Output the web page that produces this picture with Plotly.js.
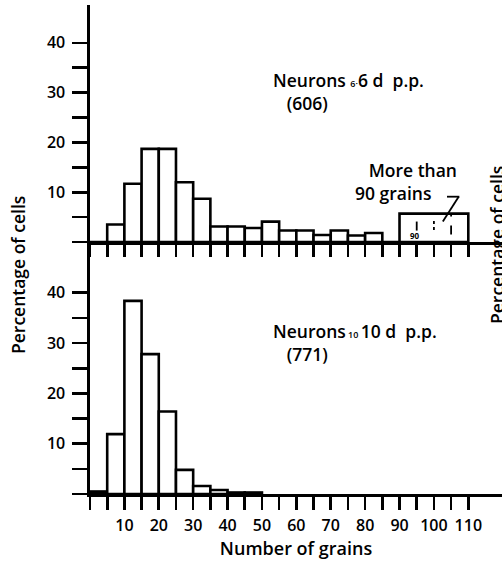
<!DOCTYPE html>
<html><head><meta charset="utf-8">
<script src="https://cdn.plot.ly/plotly-3.0.1.min.js"></script>
<style>html,body{margin:0;padding:0;background:#fff}#chart{width:502px;height:567px}</style>
</head><body><div id="chart"></div>
<script>
// Bin width 5 grains, bins start at these values
const binWidth = 5;
const topBinStarts = [0,5,10,15,20,25,30,35,40,45,50,55,60,65,70,75,80,85];
const topPercent   = [0,3.5,11.7,18.7,18.7,12.0,8.7,3.1,3.1,2.8,4.1,2.3,2.3,1.4,2.3,1.3,1.8,0];
// "More than 90 grains" block
const overBinStart = 90;
const overBinWidth = 20;
const overPercent = 5.7;

const bottomBinStarts = [0,5,10,15,20,25,30,35,40,45];
const bottomPercent   = [0.5,11.9,38.4,27.8,16.4,4.8,1.6,0.8,0.3,0.3];

const xTickVals = [0,5,10,15,20,25,30,35,40,45,50,55,60,65,70,75,80,85,90,95,100,105,110];
const xTickText = ['','','10','','20','','30','','40','','50','','60','','70','','80','','90','','100','','110'];
const yTickVals = [0,5,10,15,20,25,30,35,40];
const yTickText = ['','','10','','20','','30','','40'];

const FONT = '"Open Sans", Lato, sans-serif';
const LW = 2.6;

const centers = (starts, w) => starts.map(s => s + w/2);

const traces = [
  {type:'bar', x: centers(topBinStarts, binWidth), y: topPercent, width: binWidth,
   xaxis:'x', yaxis:'y', marker:{color:'#fff', line:{color:'#000', width:LW}}, hoverinfo:'skip'},
  {type:'bar', x: [overBinStart + overBinWidth/2], y: [overPercent], width: overBinWidth,
   xaxis:'x', yaxis:'y', marker:{color:'#fff', line:{color:'#000', width:LW}}, hoverinfo:'skip'},
  {type:'bar', x: centers(bottomBinStarts, binWidth), y: bottomPercent, width: binWidth,
   xaxis:'x2', yaxis:'y2', marker:{color:'#fff', line:{color:'#000', width:LW}}, hoverinfo:'skip'}
];

const split = (494-242)/489;
const xRange = [0, 119.8];

const tickFont = {family:FONT, size:16, color:'#000', weight:600};
const yCommon = {
  tickmode:'array', tickvals: yTickVals, ticktext: yTickText,
  ticks:'outside', ticklen:15, tickwidth:LW, tickcolor:'#000',
  showline:true, linewidth:LW, linecolor:'#000', showgrid:false, zeroline:false,
  tickfont: tickFont, ticklabelstandoff:4
};
const xCommon = {
  range: xRange, tickmode:'array', tickvals: xTickVals,
  ticks:'outside', tickwidth:LW, tickcolor:'#000',
  showline:true, linewidth:LW, linecolor:'#000', showgrid:false, zeroline:false
};

const annFont = {family:FONT, size:17.5, color:'#000', weight:600};
const layout = {
  width:502, height:567,
  margin:{l:90, r:0, t:5, b:73},
  paper_bgcolor:'#fff', plot_bgcolor:'#fff',
  showlegend:false, barmode:'overlay',
  xaxis: Object.assign({}, xCommon, {anchor:'y', domain:[0,1], ticklen:12, showticklabels:false}),
  yaxis: Object.assign({}, yCommon, {anchor:'x', domain:[split,1], range:[0,47.6]}),
  xaxis2: Object.assign({}, xCommon, {anchor:'y2', domain:[0,1], ticklen:13, ticktext: xTickText,
    tickfont: tickFont, ticklabelstandoff:2,
    title:{text:'Number of grains', font:{family:FONT, size:18, color:'#000', weight:600}, standoff:7}}),
  yaxis2: Object.assign({}, yCommon, {anchor:'x2', domain:[0,split], range:[0,50.1]}),
  annotations: [
    {xref:'paper', yref:'paper', x:(18-90)/412, y:(494-275)/489, text:'Percentage of cells', textangle:-90,
     showarrow:false, xanchor:'center', yanchor:'middle', font:{family:FONT, size:17.5, color:'#000', weight:600}},
    {xref:'paper', yref:'paper', x:(497-90)/412, y:(494-245)/489, text:'Percentage of cells', textangle:-90,
     showarrow:false, xanchor:'center', yanchor:'middle', font:{family:FONT, size:17.5, color:'#000', weight:600}},
    {xref:'x', yref:'y', x:52.6, y:30.2, xanchor:'left', yanchor:'middle', align:'left', showarrow:false,
     text:'Neurons <span style="font-size:9px">6·</span>6 d  p.p.<br>&nbsp;&nbsp;&nbsp;(606)', font:annFont},
    {xref:'x', yref:'y', x:76.5, y:12.2, xanchor:'left', yanchor:'middle', align:'left', showarrow:false,
     text:'&nbsp;&nbsp;&nbsp;More than<br>90 grains', font:annFont},
    {xref:'x', yref:'y', x:94.5, y:1.3, xanchor:'center', yanchor:'middle', showarrow:false,
     text:'90', font:{family:FONT, size:8, color:'#000', weight:700}},
    {xref:'x2', yref:'y2', x:52.6, y:30.1, xanchor:'left', yanchor:'middle', align:'left', showarrow:false,
     text:'Neurons<span style="font-size:9px"> 10 </span>10 d  p.p.<br>&nbsp;&nbsp;&nbsp;(771)', font:annFont}
  ],
  shapes: [
    {type:'line', xref:'x', yref:'y', x0:95, x1:95, y0:2.3, y1:5.4, line:{color:'#000', width:1.8, dash:'dash'}},
    {type:'line', xref:'x', yref:'y', x0:105, x1:105, y0:1.5, y1:5.4, line:{color:'#000', width:1.8, dash:'dash'}},
    {type:'line', xref:'x', yref:'y', x0:100, x1:100, y0:2.4, y1:4.2, line:{color:'#000', width:1.8, dash:'dot'}},
    {type:'line', xref:'x', yref:'y', x0:103.8, x1:107.4, y0:9.1, y1:9.1, line:{color:'#000', width:1.8}},
    {type:'line', xref:'x', yref:'y', x0:107.2, x1:102.6, y0:9.1, y1:4.1, line:{color:'#000', width:1.8}}
  ]
};

Plotly.newPlot('chart', traces, layout, {staticPlot:true, displayModeBar:false});
</script>
</body></html>
